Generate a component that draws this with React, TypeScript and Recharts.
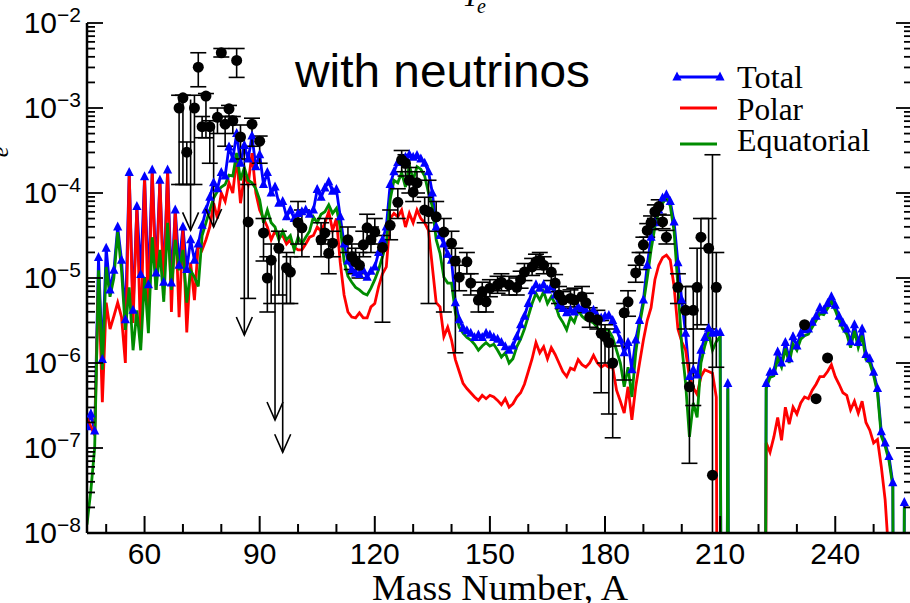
import React from 'react';
import { ComposedChart, Line, Scatter, XAxis, YAxis, ErrorBar } from 'recharts';

// ---- layout constants ----
const W = 920;
const H = 603;
const PL = 87;
const PR = 912;
const PT = 23;
const PB = 533;
const SANS = '"Liberation Sans", Arial, Helvetica, sans-serif';
const SERIF = '"Liberation Serif", "Times New Roman", serif';
const BLUE = '#0000ff';
const RED = '#ff0000';
const GREEN = '#008c00';

// ---- data (log10 of abundance Y) ----
const massNumbers = [
  45, 46, 47, 48, 49, 50, 51, 52, 53, 54,
  55, 56, 57, 58, 59, 60, 61, 62, 63, 64,
  65, 66, 67, 68, 69, 70, 71, 72, 73, 74,
  75, 76, 77, 78, 79, 80, 81, 82, 83, 84,
  85, 86, 87, 88, 89, 90, 91, 92, 93, 94,
  95, 96, 97, 98, 99, 100, 101, 102, 103, 104,
  105, 106, 107, 108, 109, 110, 111, 112, 113, 114,
  115, 116, 117, 118, 119, 120, 121, 122, 123, 124,
  125, 126, 127, 128, 129, 130, 131, 132, 133, 134,
  135, 136, 137, 138, 139, 140, 141, 142, 143, 144,
  145, 146, 147, 148, 149, 150, 151, 152, 153, 154,
  155, 156, 157, 158, 159, 160, 161, 162, 163, 164,
  165, 166, 167, 168, 169, 170, 171, 172, 173, 174,
  175, 176, 177, 178, 179, 180, 181, 182, 183, 184,
  185, 186, 187, 188, 189, 190, 191, 192, 193, 194,
  195, 196, 197, 198, 199, 200, 201, 202, 203, 204,
  205, 206, 207, 208, 209, 210, 211, 212, 213, 214,
  215, 216, 217, 218, 219, 220, 221, 222, 223, 224,
  225, 226, 227, 228, 229, 230, 231, 232, 233, 234,
  235, 236, 237, 238, 239, 240, 241, 242, 243, 244,
  245, 246, 247, 248, 249, 250, 251, 252, 253, 254,
  255, 256, 257, 258, 259,
];

const totalLog: (number | null)[] = [
  -6.75, -6.6, -6.8, -4.76, -5.96, -4.65, -5.14, -4.91, -4.4, -4.79,
  -5.49, -3.76, -5.38, -4.16, -4.96, -3.81, -5.08, -3.73, -4.94, -3.85,
  -5.05, -3.73, -5.06, -4.2, -4.85, -4.4, -4.9, -4.55, -4.79, -4.6,
  -4.38, -4.2, -4.05, -3.88, -3.95, -3.76, -3.8, -3.46, -3.6, -3.3,
  -3.65, -3.44, -3.6, -3.33, -3.69, -3.55, -3.9, -3.76, -4.0, -3.93,
  -4.12, -4.1, -4.28, -4.2, -4.3, -4.24, -4.22, -4.2, -4.25, -4.2,
  -3.96, -4.05, -3.94, -3.87, -3.98, -3.96, -4.28, -4.6, -4.8, -4.9,
  -4.94, -4.96, -4.91, -4.99, -4.92, -4.87, -4.7, -4.55, -4.4, -3.9,
  -3.75, -3.64, -3.6, -3.58, -3.55, -3.58, -3.56, -3.6, -3.65, -3.75,
  -4.0, -4.4, -4.5, -4.6, -4.72, -4.79, -5.29, -5.49, -5.59, -5.62,
  -5.65, -5.7, -5.67, -5.7, -5.65, -5.67, -5.7, -5.72, -5.76, -5.81,
  -5.85, -5.8, -5.69, -5.55, -5.45, -5.3, -5.15, -5.08, -5.12, -5.08,
  -5.14, -5.1, -5.2, -5.32, -5.36, -5.41, -5.38, -5.4, -5.34, -5.36,
  -5.38, -5.44, -5.38, -5.45, -5.47, -5.45, -5.44, -5.5, -5.61, -5.73,
  -5.88, -5.76, -6.08, -5.73, -5.5, -5.26, -4.85, -4.52, -4.35, -4.2,
  -4.06, -4.02, -4.1, -4.34, -4.82, -5.26, -5.65, -6.16, -6.08, -6.14,
  -5.85, -5.7, -5.59, -5.65, -5.64, -5.64, -20, -6.24, -20, null,
  null, null, null, null, null, null, -20, -6.24, -6.11, -6.1,
  -5.87, -6.0, -5.76, -5.95, -5.69, -5.8, -5.65, -5.61, -5.6, -5.52,
  -5.45, -5.35, -5.38, -5.3, -5.22, -5.32, -5.45, -5.53, -5.6, -5.75,
  -5.55, -5.76, -5.6, -5.9, -5.95, -6.11, -6.3, -6.81, -6.94, -7.1,
  -7.41, -20, -20, -7.64, null,
];

const polarLog: (number | null)[] = [
  -6.65, -6.75, -6.85, -5.0, -6.46, -5.29, -5.6, -5.45, -5.29, -5.46,
  -6.0, -3.76, -5.53, -4.16, -5.76, -3.81, -5.46, -3.73, -5.14, -3.85,
  -5.2, -3.73, -5.4, -4.2, -5.46, -4.44, -5.64, -4.82, -5.26, -4.6,
  -4.67, -4.55, -4.4, -4.12, -4.3, -4.0, -4.1, -3.88, -4.0, -3.58,
  -4.12, -3.8, -3.9, -3.53, -4.0, -4.2, -4.3, -4.4, -4.55, -4.45,
  -4.52, -4.5, -4.6, -4.55, -4.64, -4.67, -4.67, -4.6, -4.52, -4.5,
  -4.4, -4.45, -4.35, -4.22, -4.44, -4.3, -4.82, -5.2, -5.4, -5.46,
  -5.47, -5.41, -5.47, -5.47, -5.34, -5.3, -5.1, -4.95, -4.87, -4.3,
  -4.24, -4.28, -4.2, -4.4, -4.24, -4.35, -4.2, -4.3, -4.35, -4.44,
  -4.87, -5.29, -5.34, -5.69, -5.58, -5.73, -5.96, -6.1, -6.24, -6.3,
  -6.35, -6.4, -6.44, -6.38, -6.42, -6.38, -6.4, -6.44, -6.49, -6.42,
  -6.52, -6.48, -6.4, -6.35, -6.25, -6.1, -5.95, -5.76, -5.88, -5.81,
  -5.95, -5.82, -5.9, -6.0, -6.1, -6.16, -6.06, -6.08, -5.96, -6.02,
  -6.05, -6.0, -5.91, -6.0, -6.05, -6.02, -6.05, -6.05, -6.32, -6.45,
  -6.59, -6.28, -6.67, -6.28, -6.0, -5.73, -5.5, -5.35, -5.02, -4.85,
  -4.76, -4.73, -4.79, -5.1, -5.6, -5.75, -5.85, -6.17, -6.29, -6.37,
  -6.16, -6.08, -6.1, -6.12, -6.4, -20, -20, -20, -20, null,
  null, null, null, null, null, null, -20, -6.94, -7.05, -6.87,
  -6.64, -6.91, -6.52, -6.72, -6.52, -6.6, -6.47, -6.4, -6.42, -6.32,
  -6.25, -6.16, -6.16, -6.1, -6.02, -6.16, -6.25, -6.35, -6.38, -6.55,
  -6.45, -6.59, -6.45, -6.7, -6.79, -6.94, -6.9, -7.22, -7.61, -8.3,
  -20, -20, -20, -20, null,
];

const equatorialLog: (number | null)[] = [
  -7.9, -7.5, -7.0, -4.91, -6.08, -4.87, -5.22, -5.0, -4.46, -4.91,
  -5.61, -5.11, -5.85, -5.38, -5.85, -4.99, -5.65, -4.52, -5.14, -4.67,
  -5.28, -4.35, -5.14, -4.55, -4.91, -4.67, -5.29, -4.91, -4.99, -5.1,
  -4.5, -4.35, -4.2, -4.06, -3.98, -3.93, -3.9, -3.79, -3.8, -3.53,
  -3.85, -3.7, -3.85, -3.88, -3.95, -4.08, -4.35, -4.2, -4.35, -4.4,
  -4.55, -4.45, -4.55, -4.5, -4.67, -4.52, -4.6, -4.52, -4.45, -4.28,
  -4.35, -4.25, -4.22, -4.14, -4.24, -4.18, -4.4, -4.8, -4.98, -5.05,
  -5.11, -5.14, -5.18, -5.2, -5.12, -5.02, -4.9, -4.75, -4.6, -4.08,
  -3.85, -3.88, -3.76, -3.93, -3.67, -3.85, -3.69, -3.72, -3.8, -4.0,
  -4.16, -4.55, -4.71, -4.99, -5.06, -5.06, -5.41, -5.58, -5.65, -5.7,
  -5.73, -5.78, -5.85, -5.8, -5.76, -5.8, -5.78, -5.85, -5.93, -5.88,
  -6.0, -5.95, -5.81, -5.72, -5.6, -5.45, -5.3, -5.18, -5.26, -5.16,
  -5.3, -5.22, -5.3, -5.45, -5.52, -5.61, -5.46, -5.52, -5.38, -5.45,
  -5.49, -5.5, -5.53, -5.58, -5.65, -5.6, -5.62, -5.7, -5.85, -6.0,
  -6.28, -6.05, -6.4, -5.88, -5.55, -5.3, -5.0, -4.67, -4.4, -4.22,
  -4.12, -4.06, -4.15, -4.45, -5.1, -5.8, -6.24, -6.87, -6.47, -6.64,
  -6.0, -5.8, -5.65, -5.85, -5.75, -5.69, -20, -6.3, -20, null,
  null, null, null, null, null, null, -20, -6.3, -6.17, -6.15,
  -5.95, -6.05, -5.83, -6.0, -5.78, -5.85, -5.72, -5.68, -5.66, -5.58,
  -5.5, -5.42, -5.43, -5.36, -5.28, -5.38, -5.5, -5.6, -5.66, -5.82,
  -5.62, -5.82, -5.68, -5.96, -6.0, -6.15, -6.35, -6.86, -6.98, -7.15,
  -7.45, -20, -20, -7.7, null,
];

// solar r-process residuals (log10 Y) with error bounds
const expA = [
  69, 70, 71, 73, 74, 75, 76, 77, 79, 80, 81, 82, 83, 84, 85, 87, 88, 90,
  91, 92, 93, 95, 97, 98, 100, 101, 106, 107, 108, 109,
  113, 114, 115, 116, 117, 118, 119, 120, 122, 124, 126, 127, 128, 129, 130, 131,
  133, 134, 136, 138, 140, 141, 142, 144, 145, 147, 148, 149, 150, 152, 153, 155,
  157, 158, 159, 161, 162, 163, 164, 166, 167, 168, 169, 171, 172, 174, 175, 176,
  178, 179, 180, 181, 182, 185, 186, 188, 189, 190, 191, 192, 193, 194, 195, 196,
  199, 201, 202, 203, 204, 205, 207, 208, 209,
];
const expLog = [
  -3.0, -2.88, -3.52, -3.0, -2.52, -3.22, -2.86, -3.22, -3.11, -2.35, -3.19, -3.01, -3.15, -2.44, -3.34, -4.34, -3.19, -3.39,
  -4.47, -5.0, -4.79, -4.65, -4.88, -4.93, -4.35, -4.41, -4.55, -4.47, -4.71, -4.59,
  -4.55, -4.75, -4.81, -4.85, -4.61, -4.41, -4.55, -4.46, -4.64, -4.38, -4.11, -3.61, -3.65, -3.85, -3.99, -3.88,
  -4.2, -4.22, -4.28, -4.46, -4.59, -4.8, -4.99, -4.81, -5.06, -5.26, -5.16, -5.28, -5.12, -5.08, -5.05, -5.08,
  -5.11, -5.02, -4.93, -4.87, -4.81, -4.79, -4.85, -4.93, -5.06, -5.2, -5.26, -5.24, -5.26, -5.22, -5.29, -5.46,
  -5.49, -5.65, -5.69, -5.76, -6.0, -5.41, -5.28, -4.94, -4.79, -4.61, -4.44, -4.35, -4.22, -4.16, -4.34, -4.52,
  -5.11, -5.38, -6.28, -5.38, -5.11, -4.52, -4.65, -7.32, -5.11,
];
const expLowLog = [
  -3.9, -3.9, -3.9, -3.9, -2.75, -3.35, -3.35, -3.65, -3.3, -2.4, -3.45, -3.1, -3.3, -2.64, -3.6, -5.24, -3.45, -3.65,
  -4.8, -5.4, -5.3, -5.2, -5.3, -5.3, -4.6, -4.75, -4.75, -4.6, -4.95, -4.75,
  -4.7, -4.9, -4.95, -5.0, -4.75, -4.6, -4.7, -4.6, -5.52, -4.55, -4.3, -3.75, -3.8, -4.0, -4.1, -4.0,
  -4.35, -5.3, -4.45, -5.4, -4.75, -5.88, -5.15, -4.95, -5.2, -5.4, -5.3, -5.4, -5.22, -5.18, -5.15, -5.2,
  -5.2, -5.12, -5.03, -4.97, -4.9, -4.88, -4.95, -5.03, -5.16, -5.3, -5.36, -5.34, -5.4, -5.35, -5.4, -5.58,
  -5.6, -6.35, -6.0, -6.6, -6.88, -6.2, -5.45, -5.05, -4.9, -4.7, -4.52, -4.43, -4.3, -4.25, -4.42, -4.6,
  -5.3, -5.6, -7.18, -6.5, -5.6, -5.55, -5.6, -8.0, -6.05,
];
const expHighLog = [
  -2.85, -2.85, -3.4, -2.85, -2.35, -3.1, -2.83, -3.15, -3.0, -2.3, -3.1, -2.97, -3.1, -2.3, -3.2, -3.9, -3.12, -3.33,
  -4.3, -4.75, -4.6, -4.45, -4.7, -4.75, -4.1, -4.2, -4.35, -4.3, -4.55, -4.45,
  -4.4, -4.6, -4.65, -4.7, -4.45, -4.25, -4.4, -4.3, -4.5, -4.2, -3.95, -3.5, -3.55, -3.7, -3.85, -3.75,
  -4.05, -3.85, -4.1, -4.3, -4.45, -4.65, -4.85, -4.7, -4.95, -5.15, -5.05, -5.15, -5.02, -4.98, -4.95, -4.98,
  -5.0, -4.92, -4.83, -4.77, -4.72, -4.7, -4.75, -4.83, -4.96, -5.1, -5.16, -5.14, -5.12, -5.1, -5.18, -5.35,
  -5.38, -5.5, -5.55, -5.6, -5.8, -5.3, -5.15, -4.85, -4.7, -4.52, -4.36, -4.27, -4.14, -4.08, -4.26, -4.44,
  -4.95, -5.1, -6.0, -5.1, -4.65, -4.3, -4.3, -3.55, -4.7,
];

// actinide points (no error bars)
const actinideA = [232, 235, 238];
const actinideLog = [-5.55, -6.42, -5.94];

// upper limits (arrows)
const limitA = [72, 78, 86, 94, 96];
const limitTopLog = [-2.9, -3.22, -3.34, -4.79, -4.9];
const limitTipLog = [-4.44, -4.4, -5.67, -6.67, -7.05];

const xTicks = [50, 60, 70, 80, 90, 100, 110, 120, 130, 140, 150, 160, 170, 180, 190, 200, 210, 220, 230, 240, 250];
const yDecades = [-8, -7, -6, -5, -4, -3];
const yTicks: number[] = [];
yDecades.forEach((d) => {
  for (let k = 1; k <= 9; k++) yTicks.push(d + Math.log10(k));
});
yTicks.push(-2);

// ---- build tables ----
const modelRows = massNumbers.map((A, i) => ({
  A,
  total: totalLog[i],
  polar: polarLog[i],
  equatorial: equatorialLog[i],
}));
const expRows = expA.map((A, i) => ({
  A,
  y: expLog[i],
  err: [expLog[i] - expLowLog[i], expHighLog[i] - expLog[i]],
}));
const actinideRows = actinideA.map((A, i) => ({ A, y: actinideLog[i] }));
const limitRows = limitA.map((A, i) => ({
  A,
  y: limitTipLog[i],
  err: [0, limitTopLog[i] - limitTipLog[i]],
}));

const isMajorY = (v: number) => Math.abs(v - Math.round(v)) < 1e-9;

function BottomTick(props: any) {
  const { x, payload } = props;
  const v = payload.value;
  const major = v % 30 === 0;
  return (
    <g>
      <line x1={x} x2={x} y1={PB} y2={PB - (major ? 17 : 9)} stroke="#000" strokeWidth={2} />
      {major && (
        <text x={x} y={564} textAnchor="middle" fontSize={30} fontFamily={SANS} fill="#000">
          {v}
        </text>
      )}
    </g>
  );
}

function TopTick(props: any) {
  const { x, payload } = props;
  const major = payload.value % 30 === 0;
  return <line x1={x} x2={x} y1={PT} y2={PT + (major ? 17 : 9)} stroke="#000" strokeWidth={2} />;
}

function LeftTick(props: any) {
  const { y, payload } = props;
  const v = payload.value;
  const major = isMajorY(v);
  return (
    <g>
      <line x1={PL} x2={PL + (major ? 16 : 8)} y1={y} y2={y} stroke="#000" strokeWidth={1.8} />
      {major && (
        <text x={81} y={y + 10} textAnchor="end" fontFamily={SANS} fill="#000">
          <tspan fontSize={30}>10</tspan>
          <tspan fontSize={21} dy={-11}>{`\u2212${Math.abs(Math.round(v))}`}</tspan>
        </text>
      )}
    </g>
  );
}

function RightTick(props: any) {
  const { y, payload } = props;
  const major = isMajorY(payload.value);
  return <line x1={PR} x2={PR - (major ? 16 : 8)} y1={y} y2={y} stroke="#000" strokeWidth={1.8} />;
}

function TriangleDot(props: any) {
  const { cx, cy, value, index } = props;
  if (value == null || cx == null || cy == null || value < -8.3) return <g key={`t${index}`} />;
  return (
    <polygon
      key={`t${index}`}
      points={`${cx},${cy - 5.5} ${cx - 4.6},${cy + 3.5} ${cx + 4.6},${cy + 3.5}`}
      fill={BLUE}
    />
  );
}

const CircleShape = (p: any) => <circle cx={p.cx} cy={p.cy} r={5.5} fill="#000" />;
const ArrowHead = (p: any) => (
  <path
    d={`M${p.cx - 8},${p.cy - 18} L${p.cx},${p.cy} L${p.cx + 8},${p.cy - 18}`}
    fill="none"
    stroke="#000"
    strokeWidth={1.6}
  />
);

export default function App() {
  return (
    <div style={{ position: 'absolute', left: 0, top: 0, width: 910, height: 603, overflow: 'hidden', background: '#fff' }}>
      <ComposedChart width={W} height={H} data={modelRows} margin={{ top: PT, right: 0, bottom: 0, left: 0 }}>
        <XAxis
          dataKey="A"
          type="number"
          domain={[45, 260]}
          ticks={xTicks}
          interval={0}
          allowDataOverflow
          height={70}
          tickLine={false}
          axisLine={{ stroke: '#000', strokeWidth: 2.5 }}
          tick={BottomTick}
        />
        <XAxis
          xAxisId="top"
          orientation="top"
          type="number"
          domain={[45, 260]}
          ticks={xTicks}
          interval={0}
          allowDataOverflow
          height={0}
          tickLine={false}
          axisLine={{ stroke: '#000', strokeWidth: 2.5 }}
          tick={TopTick}
        />
        <YAxis
          type="number"
          domain={[-8, -2]}
          ticks={yTicks}
          interval={0}
          allowDataOverflow
          width={PL}
          tickLine={false}
          axisLine={{ stroke: '#000', strokeWidth: 2.5 }}
          tick={LeftTick}
        />
        <YAxis
          yAxisId="right"
          orientation="right"
          type="number"
          domain={[-8, -2]}
          ticks={yTicks}
          interval={0}
          allowDataOverflow
          width={W - PR}
          tickLine={false}
          axisLine={{ stroke: '#000', strokeWidth: 2.5 }}
          tick={RightTick}
        />
        <Line
          dataKey="total"
          stroke={BLUE}
          strokeWidth={2.8}
          dot={TriangleDot}
          activeDot={false}
          isAnimationActive={false}
          type="linear"
        />
        <Line dataKey="polar" stroke={RED} strokeWidth={2.8} dot={false} activeDot={false} isAnimationActive={false} type="linear" />
        <Line dataKey="equatorial" stroke={GREEN} strokeWidth={2.8} dot={false} activeDot={false} isAnimationActive={false} type="linear" />
        <Scatter data={expRows} dataKey="y" shape={CircleShape} isAnimationActive={false}>
          <ErrorBar dataKey="err" direction="y" width={8} stroke="#000" strokeWidth={1.6} />
        </Scatter>
        <Scatter data={limitRows} dataKey="y" shape={ArrowHead} isAnimationActive={false}>
          <ErrorBar dataKey="err" direction="y" width={0} stroke="#000" strokeWidth={1.6} />
        </Scatter>
        <Scatter data={actinideRows} dataKey="y" shape={CircleShape} isAnimationActive={false} />
      </ComposedChart>

      <svg width={910} height={603} style={{ position: 'absolute', left: 0, top: 0, pointerEvents: 'none' }}>
        {/* cut title */}
        <text x={462} y={6} fontFamily={SERIF} fontStyle="italic" fontSize={30} fill="#000">Y</text>
        <text x={477} y={13} fontFamily={SERIF} fontStyle="italic" fontSize={20} fill="#000">e</text>
        {/* cut y-axis label */}
        <text transform="translate(8,152) rotate(-90)" textAnchor="middle" fontFamily={SERIF} fontStyle="italic" fontSize={24} fill="#000">e</text>
        {/* annotation */}
        <text x={295} y={87} fontFamily={SANS} fontSize={46} textLength={295} lengthAdjust="spacingAndGlyphs" fill="#000">
          with neutrinos
        </text>
        {/* legend */}
        <line x1={677} x2={720} y1={77} y2={77} stroke={BLUE} strokeWidth={2.8} />
        <polygon points="677,71.5 672.4,80.5 681.6,80.5" fill={BLUE} />
        <polygon points="720,71.5 715.4,80.5 724.6,80.5" fill={BLUE} />
        <text x={737} y={88} fontFamily={SERIF} fontSize={32} textLength={66} lengthAdjust="spacingAndGlyphs" fill="#000">Total</text>
        <line x1={680} x2={717} y1={108} y2={108} stroke={RED} strokeWidth={2.8} />
        <text x={737} y={120} fontFamily={SERIF} fontSize={32} textLength={66} lengthAdjust="spacingAndGlyphs" fill="#000">Polar</text>
        <line x1={680} x2={717} y1={144} y2={144} stroke={GREEN} strokeWidth={2.8} />
        <text x={737} y={151} fontFamily={SERIF} fontSize={32} textLength={133} lengthAdjust="spacingAndGlyphs" fill="#000">Equatorial</text>
        {/* x axis title */}
        <text x={372} y={600} fontFamily={SERIF} fontSize={36} textLength={256} lengthAdjust="spacingAndGlyphs" fill="#000">
          Mass Number, A
        </text>
      </svg>
    </div>
  );
}
